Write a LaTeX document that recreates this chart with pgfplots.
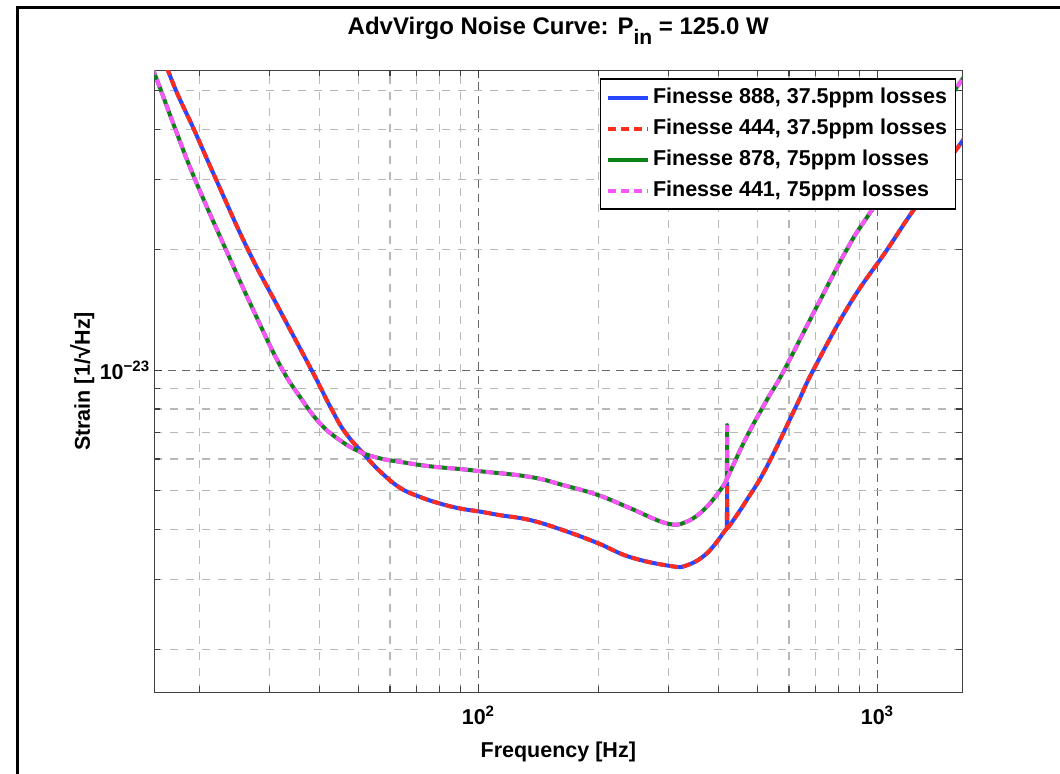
\documentclass[border=0pt]{standalone}
\usepackage{fontspec}
\setmainfont{Liberation Sans}
\usepackage{pgfplots}
\usepackage{pgfplotstable}
\pgfplotsset{compat=1.18}
\definecolor{cblue}{RGB}{40,70,255}
\definecolor{cred}{RGB}{255,45,30}
\definecolor{cgreen}{RGB}{10,130,20}
\definecolor{cmag}{RGB}{250,85,250}

% 37.5 ppm losses (Finesse 888 / 444)
\pgfplotstableread{
f h
16.13 6.13e-23
17.46 5.0e-23
19.36 4.0e-23
21.99 3.0e-23
26.45 2.0e-23
31.8 1.41e-23
38.19 1.0e-23
40.3 9.0e-24
42.8 8.0e-24
46.28 7.0e-24
51.44 6.19e-24
56.6 5.59e-24
63.6 5.08e-24
71.4 4.82e-24
80.1 4.64e-24
89.9 4.51e-24
100.9 4.43e-24
113.2 4.34e-24
134.6 4.22e-24
163.1 3.98e-24
199.7 3.69e-24
239.7 3.41e-24
302 3.24e-24
332.5 3.25e-24
373.2 3.48e-24
412.4 3.94e-24
}\lowA
\pgfplotstableread{
f h
412.4 3.94e-24
419.5 4.02e-24
420 5.22e-24
420.5 4.04e-24
}\lowB
\pgfplotstableread{
f h
412.4 3.94e-24
419.5 4.02e-24
420 5.22e-24
}\lowBup
\pgfplotstableread{
f h
420.5 4.04e-24
426.9 4.10e-24
470 4.73e-24
527.7 5.73e-24
627.4 8.18e-24
690.4 1.0e-23
853.4 1.468e-23
1054.6 1.995e-23
1229.5 2.51e-23
1625.6 3.72e-23
1700 3.96e-23
}\lowC
% 75 ppm losses (Finesse 878 / 441)
\pgfplotstableread{
f h
14.81 6.13e-23
16.01 5.0e-23
17.40 4.0e-23
19.48 3.0e-23
23.29 2.0e-23
27.3 1.41e-23
31.8 1.029e-23
35.7 8.575e-24
40.08 7.36e-24
44.97 6.68e-24
50.47 6.25e-24
56.6 6.02e-24
63.6 5.90e-24
75.6 5.75e-24
89.9 5.66e-24
100.9 5.59e-24
134.6 5.41e-24
163.1 5.16e-24
199.7 4.87e-24
239.7 4.52e-24
296.3 4.14e-24
332.5 4.18e-24
373.2 4.55e-24
414.8 5.21e-24
}\highA
\pgfplotstableread{
f h
414.8 5.21e-24
419.5 5.35e-24
420 7.29e-24
420.5 5.37e-24
}\highB
\pgfplotstableread{
f h
414.8 5.21e-24
419.5 5.35e-24
420 7.29e-24
}\highBup
\pgfplotstableread{
f h
420.5 5.37e-24
426.9 5.56e-24
470 6.81e-24
527.7 8.41e-24
580.5 9.90e-24
704.2 1.44e-23
837.2 2.0e-23
967.2 2.51e-23
1625.6 5.31e-23
1700 5.66e-23
}\highC

\pgfplotsset{every axis title shift=0pt}

\begin{document}
\begin{tikzpicture}
\useasboundingbox (-77.15pt,-40.85pt) rectangle (452.85pt,346.15pt);
\draw[line width=1.4pt, black] (-68.4pt,-60pt) -- (-68.4pt,342.4pt) -- (470pt,342.4pt);
\begin{axis}[
  at={(0pt,0pt)}, anchor=south west,
  scale only axis, width=404pt, height=311pt,
  xmode=log, ymode=log,
  xmin=15.4, xmax=1632, ymin=1.564e-24, ymax=5.62e-23,
  xtick={100,1000},
  xticklabels={{10\textsuperscript{2}},{10\textsuperscript{3}}},
  ytick={1e-23},
  yticklabels={{10\textsuperscript{−23}}},
  minor xtick={20,30,40,50,60,70,80,90,200,300,400,500,600,700,800,900},
  minor ytick={2e-24,3e-24,4e-24,5e-24,6e-24,7e-24,8e-24,9e-24,2e-23,3e-23,4e-23,5e-23},
  grid=both,
  major grid style={black!60, line width=0.5pt, dash pattern=on 4pt off 3pt},
  minor grid style={black!28, line width=0.6pt, dash pattern=on 4pt off 4pt},
  axis line style={black!75, line width=0.8pt},
  tick style={black!75, line width=0.6pt},
  major tick length=4pt, minor tick length=3pt,
  tick align=inside,
  ticklabel style={font=\fontsize{10.75}{13}\selectfont\bfseries},
  xticklabel style={yshift=-3.5pt},
  yticklabel style={xshift=1.5pt},
  label style={font=\fontsize{10.75}{13}\selectfont\bfseries},
  title={AdvVirgo Noise Curve: P\raisebox{-5pt}{\fontsize{10.5}{12}\selectfont in} = 125.0 W},
  title style={at={(axis description cs:0.5,1.0579)}, anchor=base, font=\fontsize{12}{14}\selectfont\bfseries},
  xlabel={Frequency [Hz]},
  xlabel style={at={(axis description cs:0.5,-0.104)}, anchor=base},
  ylabel={Strain [1/{\fontsize{12.5}{13}\selectfont √}Hz]},
  ylabel style={at={(axis description cs:-0.0796,0.5)}, anchor=base},
  legend style={at={(axis description cs:0.9926,0.987)}, anchor=north east,
    draw=black, line width=0.6pt, fill=white,
    font=\fontsize{10.75}{13}\selectfont\bfseries,
    inner xsep=2.85pt, inner ysep=1.5pt,
    nodes={inner sep=1.5pt, text height=9pt, text depth=3.5pt},
    row sep=0pt},
  legend cell align=left,
  legend image code/.code={\draw[#1] (0cm,0cm) -- (0.7cm,0cm);},
  every axis plot/.append style={line width=2pt, line join=round},
]
\addplot[cblue, smooth, tension=0.7] table[x=f,y=h] {\lowA};
\addplot[cblue, forget plot] table[x=f,y=h] {\lowB};
\addplot[cblue, smooth, tension=0.7, forget plot] table[x=f,y=h] {\lowC};

\addplot[cred, dash pattern=on 4pt off 2.5pt, smooth, tension=0.7] table[x=f,y=h] {\lowA};
\addplot[cred, dash pattern=on 4pt off 2.5pt, forget plot] table[x=f,y=h] {\lowBup};
\addplot[cred, dash pattern=on 4pt off 2.5pt, smooth, tension=0.7, forget plot] table[x=f,y=h] {\lowC};

\addplot[cgreen, smooth, tension=0.7] table[x=f,y=h] {\highA};
\addplot[cgreen, forget plot] table[x=f,y=h] {\highB};
\addplot[cgreen, smooth, tension=0.7, forget plot] table[x=f,y=h] {\highC};

\addplot[cmag, dash pattern=on 4pt off 2.5pt, smooth, tension=0.7] table[x=f,y=h] {\highA};
\addplot[cmag, dash pattern=on 4pt off 2.5pt, forget plot] table[x=f,y=h] {\highBup};
\addplot[cmag, dash pattern=on 4pt off 2.5pt, smooth, tension=0.7, forget plot] table[x=f,y=h] {\highC};

\legend{Finesse 888{,} 37.5ppm losses, Finesse 444{,} 37.5ppm losses, Finesse 878{,} 75ppm losses, Finesse 441{,} 75ppm losses}
\end{axis}
\end{tikzpicture}
\end{document}
